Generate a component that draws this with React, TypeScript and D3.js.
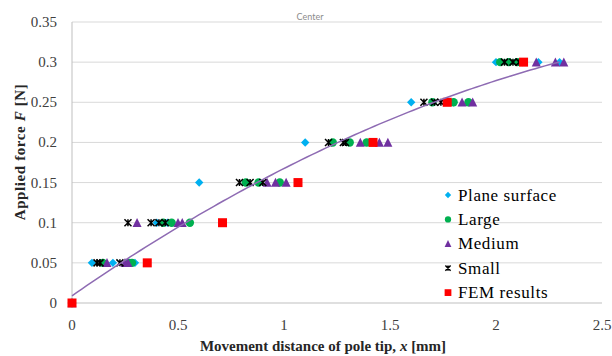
import React from "react";
import * as d3 from "d3";

// x = movement distance [mm], F = applied force [N]
const planeSurface: [number, number][] = [
  [0, 0], [0.094, 0.05], [0.193, 0.05], [0.297, 0.05],
  [0.40, 0.1], [0.45, 0.1],
  [0.60, 0.15],
  [1.10, 0.2],
  [1.60, 0.25], [1.80, 0.25],
  [2.00, 0.3], [2.20, 0.3], [2.30, 0.3],
];
const large: [number, number][] = [
  [0, 0], [0.146, 0.05], [0.27, 0.05], [0.283, 0.05],
  [0.43, 0.1], [0.47, 0.1], [0.556, 0.1],
  [0.82, 0.15], [0.88, 0.15], [0.98, 0.15],
  [1.23, 0.2], [1.31, 0.2], [1.39, 0.2],
  [1.70, 0.25], [1.80, 0.25], [1.87, 0.25],
  [2.02, 0.3], [2.06, 0.3], [2.10, 0.3],
];
const medium: [number, number][] = [
  [0, 0], [0.165, 0.05], [0.25, 0.05], [0.264, 0.05],
  [0.307, 0.1], [0.50, 0.1], [0.52, 0.1],
  [0.92, 0.15], [0.96, 0.15], [1.01, 0.15],
  [1.36, 0.2], [1.45, 0.2], [1.49, 0.2],
  [1.84, 0.25], [1.89, 0.25],
  [2.19, 0.3], [2.28, 0.3], [2.32, 0.3],
];
const small: [number, number][] = [
  [0, 0], [0.118, 0.05], [0.132, 0.05], [0.226, 0.05],
  [0.264, 0.1], [0.373, 0.1], [0.41, 0.1], [0.44, 0.1],
  [0.79, 0.15], [0.84, 0.15], [0.90, 0.15],
  [1.21, 0.2], [1.28, 0.2], [1.29, 0.2],
  [1.66, 0.25], [1.71, 0.25], [1.74, 0.25],
  [2.04, 0.3], [2.08, 0.3], [2.11, 0.3],
];
const femResults: [number, number][] = [
  [0, 0], [0.355, 0.05], [0.71, 0.1], [1.066, 0.15], [1.42, 0.2], [1.77, 0.25], [2.13, 0.3],
];
// polynomial trendline F = c0 + c1 x + c2 x^2
const trendCoefs = [0.009, 0.183, -0.0245];
const trendRange = [0, 2.3];

const xTicks = [0, 0.5, 1, 1.5, 2, 2.5];
const yTicks = [0, 0.05, 0.1, 0.15, 0.2, 0.25, 0.3, 0.35];
const legendLabels = ["Plane surface", "Large", "Medium", "Small", "FEM results"];

const COL = {
  plane: "#00B0F0",
  large: "#00B050",
  medium: "#7030A0",
  small: "#000000",
  fem: "#FF0000",
  trend: "#8E6BB3",
  grid: "#D9D9D9",
  axis: "#BFBFBF",
};

const SERIF = "'Liberation Serif', 'Times New Roman', serif";

function Marker({ kind, cx, cy, s = 1 }: { kind: string; cx: number; cy: number; s?: number }) {
  if (kind === "plane") {
    const r = 4.2 * s;
    return <path d={`M${cx},${cy - r}L${cx + r},${cy}L${cx},${cy + r}L${cx - r},${cy}Z`} fill={COL.plane} />;
  }
  if (kind === "large") return <circle cx={cx} cy={cy} r={4.2 * s} fill={COL.large} />;
  if (kind === "medium") {
    const h = 8.5 * s, w = 9 * s;
    return <path d={`M${cx},${cy - h / 2 - 0.5}L${cx + w / 2},${cy + h / 2}L${cx - w / 2},${cy + h / 2}Z`} fill={COL.medium} />;
  }
  if (kind === "small") {
    const r = 3.5 * s;
    return (
      <g stroke={COL.small} strokeWidth={1.5} fill="none">
        <path d={`M${cx - r},${cy - r}L${cx + r},${cy + r}M${cx - r},${cy + r}L${cx + r},${cy - r}M${cx},${cy - r}L${cx},${cy + r}`} />
      </g>
    );
  }
  const a = 4.5 * s;
  return <rect x={cx - a} y={cy - a} width={2 * a} height={2 * a} fill={COL.fem} />;
}

export default function App() {
  const W = 612, H = 356;
  const x = d3.scaleLinear().domain([0, 2.5]).range([72, 602]);
  const y = d3.scaleLinear().domain([0, 0.35]).range([303, 22]);

  const trendPts = d3.range(0, 101).map((i) => {
    const xv = trendRange[0] + ((trendRange[1] - trendRange[0]) * i) / 100;
    const fv = trendCoefs[0] + trendCoefs[1] * xv + trendCoefs[2] * xv * xv;
    return [xv, fv] as [number, number];
  });
  const line = d3.line<[number, number]>().x((d) => x(d[0])).y((d) => y(d[1]));

  const series: { kind: string; data: [number, number][] }[] = [
    { kind: "plane", data: planeSurface },
    { kind: "large", data: large },
    { kind: "medium", data: medium },
    { kind: "small", data: small },
    { kind: "fem", data: femResults },
  ];

  return (
    <svg width={W} height={H} style={{ position: "absolute", left: 0, top: 0, background: "#fff" }}>
      {yTicks.filter((t) => t > 0).map((t) => (
        <line key={t} x1={x(0)} x2={x(2.5)} y1={y(t)} y2={y(t)} stroke={COL.grid} strokeWidth={1} />
      ))}
      <line x1={x(0)} x2={x(2.5)} y1={y(0)} y2={y(0)} stroke={COL.axis} strokeWidth={1} />
      <line x1={x(0)} x2={x(0)} y1={y(0)} y2={y(0.35)} stroke={COL.axis} strokeWidth={1} />

      <text x={310} y={20} fontFamily="Lato, 'Open Sans', sans-serif" fontSize={9} fill="#8C8C8C" textAnchor="middle">Center</text>

      {yTicks.map((t) => (
        <text key={t} x={57} y={y(t) + 5} textAnchor="end" fontFamily={SERIF} fontSize={15} fill="#404040">{String(t)}</text>
      ))}
      {xTicks.map((t) => (
        <text key={t} x={x(t)} y={330} textAnchor="middle" fontFamily={SERIF} fontSize={15} fill="#404040">{String(t)}</text>
      ))}

      <text x={323} y={351} textAnchor="middle" fontFamily={SERIF} fontSize={15} fontWeight="bold" fill="#262626">
        Movement distance of pole tip, <tspan fontStyle="italic">x</tspan> [mm]
      </text>
      <text transform={`translate(25,152) rotate(-90)`} textAnchor="middle" fontFamily={SERIF} fontSize={15} fontWeight="bold" fill="#262626" letterSpacing={0.6}>
        Applied force <tspan fontStyle="italic">F</tspan> [N]
      </text>

      {series.map((s) => (
        <g key={s.kind}>
          {s.data.map((d, i) => (
            <Marker key={i} kind={s.kind} cx={x(d[0])} cy={y(d[1])} />
          ))}
        </g>
      ))}

      <path d={line(trendPts) || ""} fill="none" stroke={COL.trend} strokeWidth={1.5} />

      {legendLabels.map((lab, i) => {
        const ly = 195 + i * 24.4;
        return (
          <g key={lab}>
            <Marker kind={series[i].kind} cx={448} cy={ly} s={0.75} />
            <text x={458} y={ly + 5.5} fontFamily={SERIF} fontSize={17} fill="#000" letterSpacing={0.6}>{lab}</text>
          </g>
        );
      })}
    </svg>
  );
}
